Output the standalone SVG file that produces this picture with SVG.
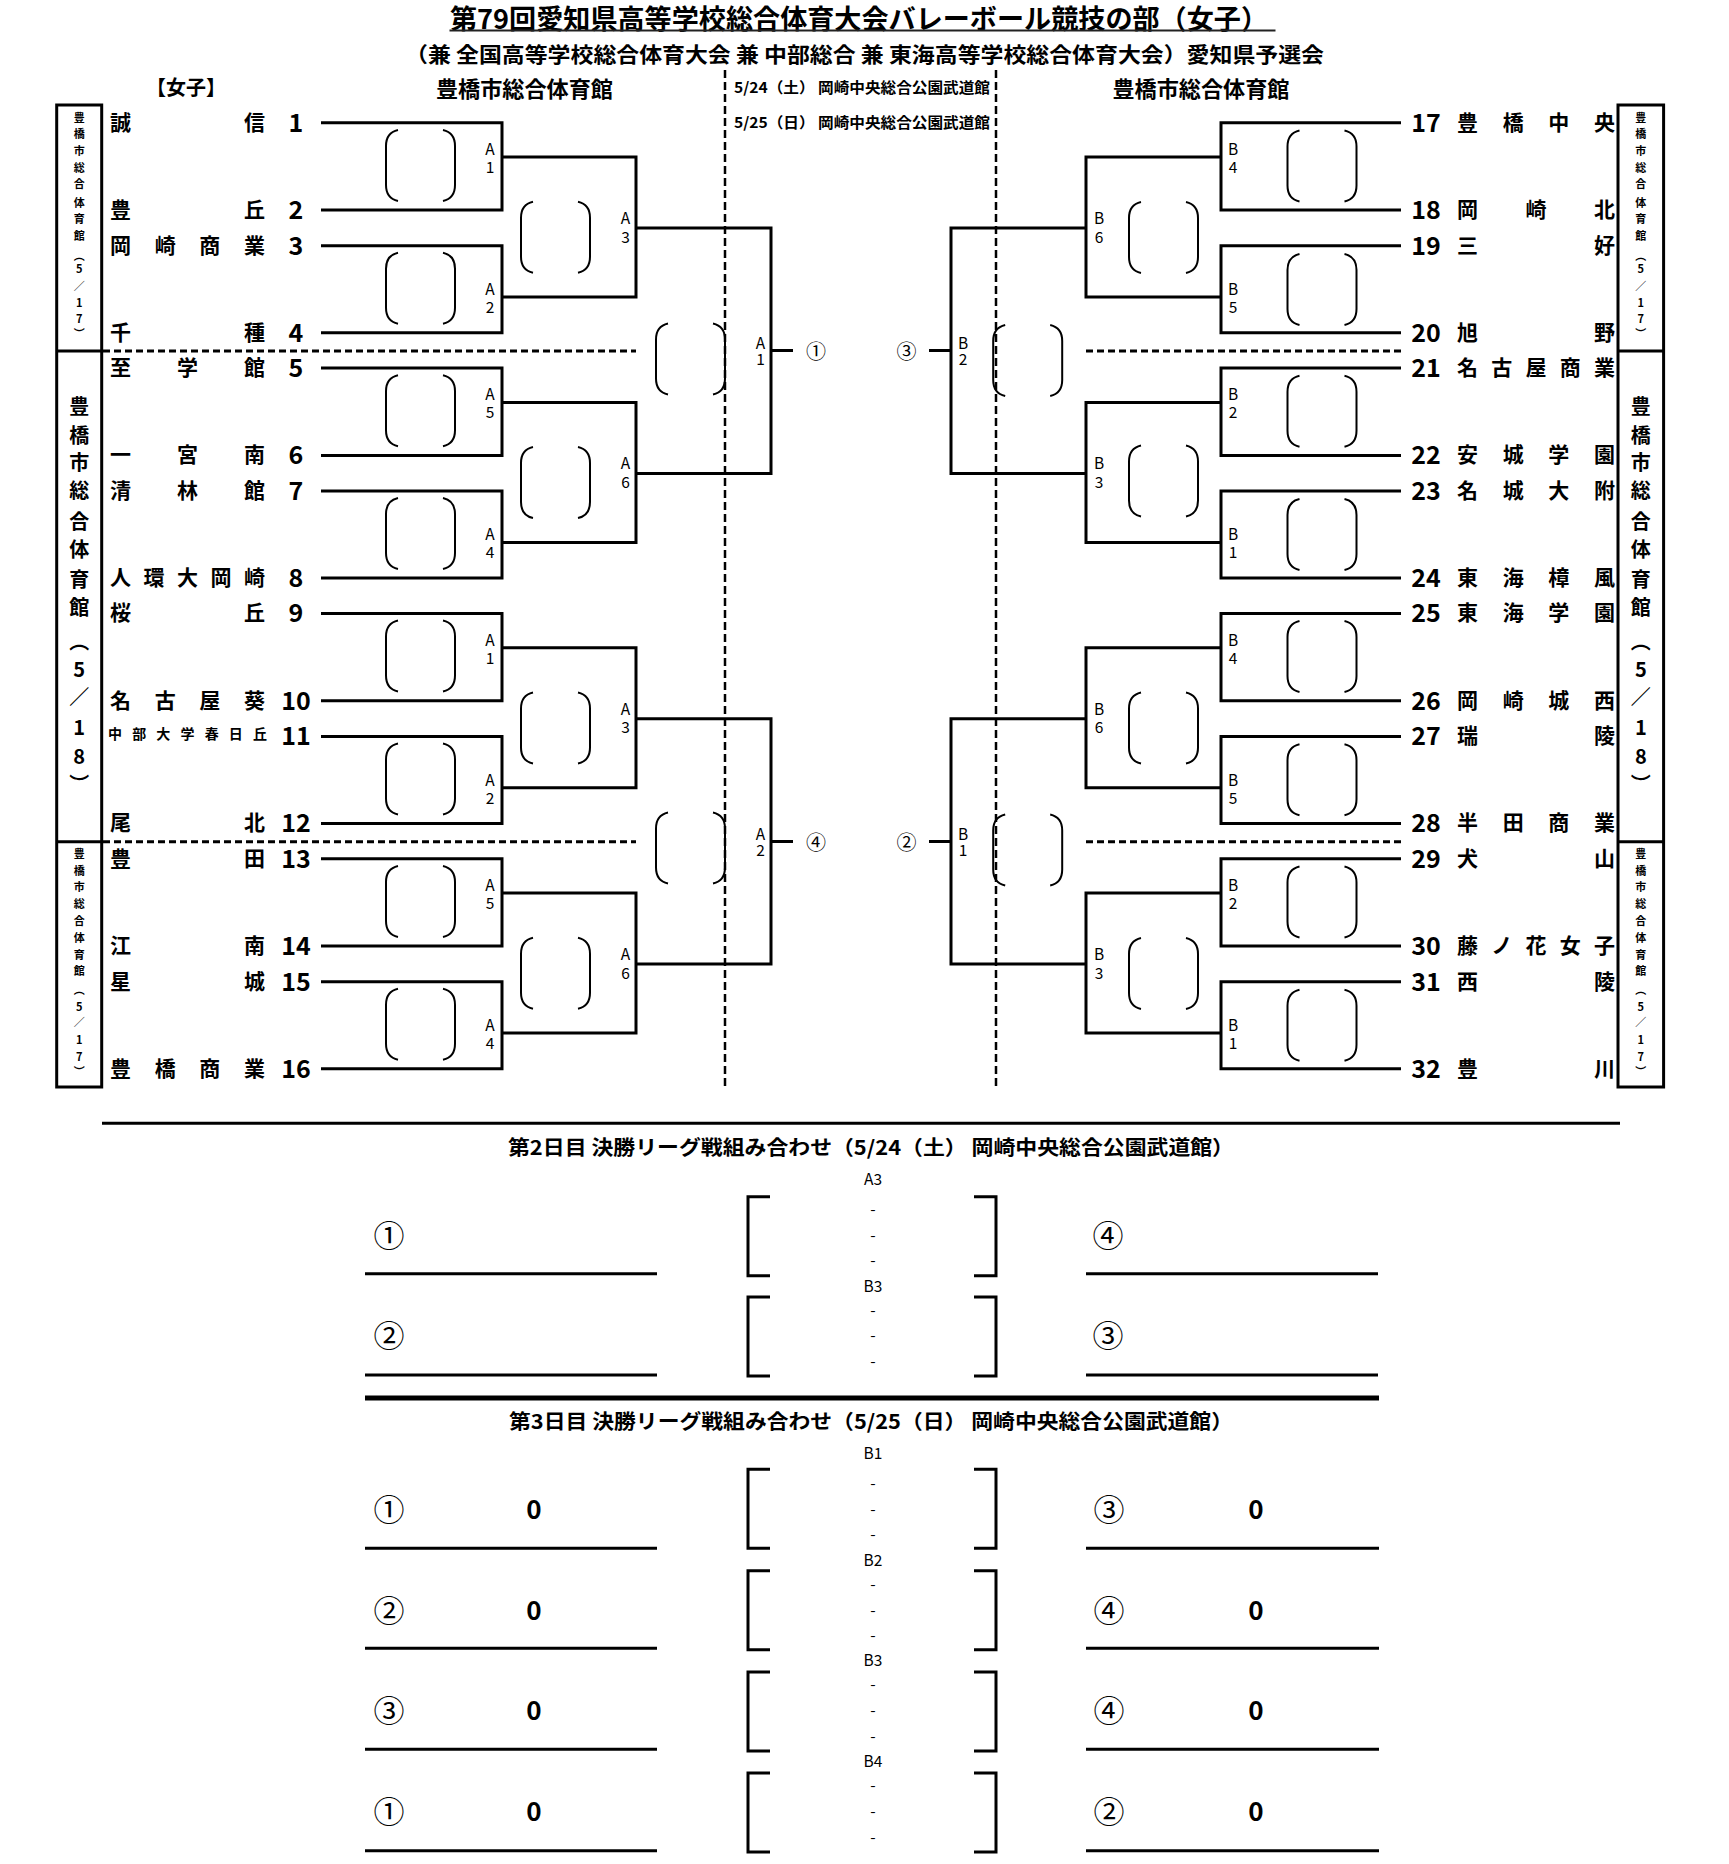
<svg xmlns="http://www.w3.org/2000/svg" xmlns:xlink="http://www.w3.org/1999/xlink" width="1729" height="1864" viewBox="0 0 1729 1864">
<style>
text{font-family:"Noto Sans CJK JP","Noto Sans",sans-serif;fill:#000}
.c{dominant-baseline:central}
.m{text-anchor:middle}
.b{font-weight:700}
.nm{font-size:21px;font-weight:700;dominant-baseline:central}
.nm2{font-size:14px;font-weight:700;dominant-baseline:central}
.no{font-size:25px;font-weight:700;text-anchor:middle;dominant-baseline:central}
.lb{font-size:15.5px;text-anchor:middle}
.vs{font-size:11px;font-weight:700;text-anchor:middle;dominant-baseline:central}
.vl{font-size:20px;font-weight:700;text-anchor:middle;dominant-baseline:central}
.ci{font-size:20px;text-anchor:middle;dominant-baseline:central}
.ci2{font-size:31px;text-anchor:middle;dominant-baseline:central}
.zero{font-size:26px;font-weight:700;text-anchor:middle;dominant-baseline:central}
.ln{fill:none;stroke:#000;stroke-width:3}
.dh{fill:none;stroke:#000;stroke-width:3;stroke-dasharray:7 4}
.dv{fill:none;stroke:#000;stroke-width:2.5;stroke-dasharray:8 4}
.pp{fill:none;stroke:#000;stroke-width:2}
</style>
<defs>
<path id="pp" class="pp" d="M-22.5,-35.5C-31.5,-33.5 -34.5,-27.5 -34.5,-19.5L-34.5,19.5C-34.5,27.5 -31.5,33.5 -22.5,35.5M22.5,-35.5C31.5,-33.5 34.5,-27.5 34.5,-19.5L34.5,19.5C34.5,27.5 31.5,33.5 22.5,35.5"/>
<path id="sq" class="ln" d="M770,0H748V79H770M974,0H996V79H974"/>
</defs>
<rect width="1729" height="1864" fill="#fff"/>

<g id="header">
<text class="b c m" x="859" y="17" font-size="27" textLength="818" lengthAdjust="spacingAndGlyphs">第79回愛知県高等学校総合体育大会バレーボール競技の部（女子）</text>
<line x1="449.5" y1="30.5" x2="1275.5" y2="30.5" stroke="#222" stroke-width="2"/>
<text class="b c m" x="864.5" y="53.3" font-size="21" textLength="919" lengthAdjust="spacingAndGlyphs">（兼 全国高等学校総合体育大会 兼 中部総合 兼 東海高等学校総合体育大会）愛知県予選会</text>
<text class="b c m" x="186" y="86.7" font-size="20">【女子】</text>
<text class="b c m" x="524.5" y="86.7" font-size="22" textLength="177" lengthAdjust="spacingAndGlyphs">豊橋市総合体育館</text>
<text class="b c m" x="1201" y="86.7" font-size="22" textLength="177" lengthAdjust="spacingAndGlyphs">豊橋市総合体育館</text>
<text class="b c" x="734" y="86.7" font-size="15" textLength="256" lengthAdjust="spacingAndGlyphs">5/24（土） 岡崎中央総合公園武道館</text>
<text class="b c" x="734" y="121.7" font-size="15" textLength="256" lengthAdjust="spacingAndGlyphs">5/25（日） 岡崎中央総合公園武道館</text>
</g>

<g id="venue-boxes">
<rect class="ln" x="56.7" y="105" width="45" height="982"/>
<line class="ln" x1="56.7" y1="351" x2="101.7" y2="351"/>
<line class="ln" x1="56.7" y1="841.7" x2="101.7" y2="841.7"/>
<rect class="ln" x="1618" y="105" width="45.6" height="982"/>
<line class="ln" x1="1618" y1="351" x2="1663.6" y2="351"/>
<line class="ln" x1="1618" y1="841.7" x2="1663.6" y2="841.7"/>
<text class="vs" x="79.2 79.2 79.2 79.2 79.2 79.2 79.2 79.2 79.2 79.2 79.2 79.2 79.2 79.2" y="116.7 133.3 150 166.7 183.3 201.7 218.3 235 255 268.3 285 301.7 318.3 333.3">豊橋市総合体育館︵5／17︶</text>
<text class="vl" x="79.2 79.2 79.2 79.2 79.2 79.2 79.2 79.2 79.2 79.2 79.2 79.2 79.2 79.2" y="405 434 461.7 489 520 548 578 606.7 640 668 695 726.7 755 783">豊橋市総合体育館︵5／18︶</text>
<text class="vs" x="79.2 79.2 79.2 79.2 79.2 79.2 79.2 79.2 79.2 79.2 79.2 79.2 79.2 79.2" y="852.7 870 886.4 902.6 919.8 937 954.3 969.8 988.7 1006 1021.4 1038.6 1055.9 1071.4">豊橋市総合体育館︵5／17︶</text>
<text class="vs" x="1640.8 1640.8 1640.8 1640.8 1640.8 1640.8 1640.8 1640.8 1640.8 1640.8 1640.8 1640.8 1640.8 1640.8" y="116.7 133.3 150 166.7 183.3 201.7 218.3 235 255 268.3 285 301.7 318.3 333.3">豊橋市総合体育館︵5／17︶</text>
<text class="vl" x="1640.8 1640.8 1640.8 1640.8 1640.8 1640.8 1640.8 1640.8 1640.8 1640.8 1640.8 1640.8 1640.8 1640.8" y="405 434 461.7 489 520 548 578 606.7 640 668 695 726.7 755 783">豊橋市総合体育館︵5／18︶</text>
<text class="vs" x="1640.8 1640.8 1640.8 1640.8 1640.8 1640.8 1640.8 1640.8 1640.8 1640.8 1640.8 1640.8 1640.8 1640.8" y="852.7 870 886.4 902.6 919.8 937 954.3 969.8 988.7 1006 1021.4 1038.6 1055.9 1071.4">豊橋市総合体育館︵5／17︶</text>
</g>

<g id="teams-left">
<g id="team-1"><text class="nm" x="110 244" y="120.7">誠信</text><text class="no" x="296" y="120.7">1</text></g>
<g id="team-2"><text class="nm" x="110 244" y="208">豊丘</text><text class="no" x="296" y="208">2</text></g>
<g id="team-3"><text class="nm" x="110 154.7 199.3 244" y="243.7">岡崎商業</text><text class="no" x="296" y="243.7">3</text></g>
<g id="team-4"><text class="nm" x="110 244" y="330.7">千種</text><text class="no" x="296" y="330.7">4</text></g>
<g id="team-5"><text class="nm" x="110 177 244" y="366.1">至学館</text><text class="no" x="296" y="366.1">5</text></g>
<g id="team-6"><text class="nm" x="110 177 244" y="453.4">一宮南</text><text class="no" x="296" y="453.4">6</text></g>
<g id="team-7"><text class="nm" x="110 177 244" y="489.1">清林館</text><text class="no" x="296" y="489.1">7</text></g>
<g id="team-8"><text class="nm" x="110 143.5 177 210.5 244" y="576.1">人環大岡崎</text><text class="no" x="296" y="576.1">8</text></g>
<g id="team-9"><text class="nm" x="110 244" y="611.4">桜丘</text><text class="no" x="296" y="611.4">9</text></g>
<g id="team-10"><text class="nm" x="110 154.7 199.3 244" y="698.7">名古屋葵</text><text class="no" x="296" y="698.7">10</text></g>
<g id="team-11"><text class="nm2" x="108 132.2 156.3 180.5 204.7 228.8 253" y="733.4">中部大学春日丘</text><text class="no" x="296" y="734.4">11</text></g>
<g id="team-12"><text class="nm" x="110 244" y="821.4">尾北</text><text class="no" x="296" y="821.4">12</text></g>
<g id="team-13"><text class="nm" x="110 244" y="856.8">豊田</text><text class="no" x="296" y="856.8">13</text></g>
<g id="team-14"><text class="nm" x="110 244" y="944.1">江南</text><text class="no" x="296" y="944.1">14</text></g>
<g id="team-15"><text class="nm" x="110 244" y="979.8">星城</text><text class="no" x="296" y="979.8">15</text></g>
<g id="team-16"><text class="nm" x="110 154.7 199.3 244" y="1066.8">豊橋商業</text><text class="no" x="296" y="1066.8">16</text></g>
</g>

<g id="teams-right">
<g id="team-17"><text class="no" x="1426" y="120.7">17</text><text class="nm" x="1457 1502.7 1548.3 1594" y="120.7">豊橋中央</text></g>
<g id="team-18"><text class="no" x="1426" y="208">18</text><text class="nm" x="1457 1525.5 1594" y="208">岡崎北</text></g>
<g id="team-19"><text class="no" x="1426" y="243.7">19</text><text class="nm" x="1457 1594" y="243.7">三好</text></g>
<g id="team-20"><text class="no" x="1426" y="330.7">20</text><text class="nm" x="1457 1594" y="330.7">旭野</text></g>
<g id="team-21"><text class="no" x="1426" y="366.1">21</text><text class="nm" x="1457 1491.3 1525.5 1559.8 1594" y="366.1">名古屋商業</text></g>
<g id="team-22"><text class="no" x="1426" y="453.4">22</text><text class="nm" x="1457 1502.7 1548.3 1594" y="453.4">安城学園</text></g>
<g id="team-23"><text class="no" x="1426" y="489.1">23</text><text class="nm" x="1457 1502.7 1548.3 1594" y="489.1">名城大附</text></g>
<g id="team-24"><text class="no" x="1426" y="576.1">24</text><text class="nm" x="1457 1502.7 1548.3 1594" y="576.1">東海樟風</text></g>
<g id="team-25"><text class="no" x="1426" y="611.4">25</text><text class="nm" x="1457 1502.7 1548.3 1594" y="611.4">東海学園</text></g>
<g id="team-26"><text class="no" x="1426" y="698.7">26</text><text class="nm" x="1457 1502.7 1548.3 1594" y="698.7">岡崎城西</text></g>
<g id="team-27"><text class="no" x="1426" y="734.4">27</text><text class="nm" x="1457 1594" y="734.4">瑞陵</text></g>
<g id="team-28"><text class="no" x="1426" y="821.4">28</text><text class="nm" x="1457 1502.7 1548.3 1594" y="821.4">半田商業</text></g>
<g id="team-29"><text class="no" x="1426" y="856.8">29</text><text class="nm" x="1457 1594" y="856.8">犬山</text></g>
<g id="team-30"><text class="no" x="1426" y="944.1">30</text><text class="nm" x="1457 1491.3 1525.5 1559.8 1594" y="944.1">藤ノ花女子</text></g>
<g id="team-31"><text class="no" x="1426" y="979.8">31</text><text class="nm" x="1457 1594" y="979.8">西陵</text></g>
<g id="team-32"><text class="no" x="1426" y="1066.8">32</text><text class="nm" x="1457 1594" y="1066.8">豊川</text></g>
</g>

<g id="connectors">
<path class="ln" d="M321,122.7H502V210H321M321,245.7H502V332.7H321M502,157H636V297H502
M321,368.1H502V455.4H321M321,491.1H502V578.1H321M502,402.4H636V542.4H502
M321,613.4H502V700.7H321M321,736.4H502V823.4H321M502,647.7H636V787.7H502
M321,858.8H502V946.1H321M321,981.8H502V1068.8H321M502,893.1H636V1033.1H502
M636,228H771V473.4H636M771,350.5H793M636,718.7H771V964.1H636M771,841.5H793"/>
<path class="ln" d="M1401,122.7H1221V210H1401M1401,245.7H1221V332.7H1401M1221,157H1086V297H1221
M1401,368.1H1221V455.4H1401M1401,491.1H1221V578.1H1401M1221,402.4H1086V542.4H1221
M1401,613.4H1221V700.7H1401M1401,736.4H1221V823.4H1401M1221,647.7H1086V787.7H1221
M1401,858.8H1221V946.1H1401M1401,981.8H1221V1068.8H1401M1221,893.1H1086V1033.1H1221
M1086,228H951V473.4H1086M951,350.5H929M1086,718.7H951V964.1H1086M951,841.5H929"/>
<path class="dh" d="M103,351H636M103,841.7H636M1086,351H1401M1086,841.7H1401"/>
<path class="dv" d="M725,70V1087M996,70V1087"/>
</g>

<g id="matches-left">
<g id="m-A1a"><use href="#pp" x="420.5" y="165.4"/><text class="lb" x="490 490" y="155 173">A1</text></g>
<g id="m-A2a"><use href="#pp" x="420.5" y="288.2"/><text class="lb" x="490 490" y="295 313">A2</text></g>
<g id="m-A5a"><use href="#pp" x="420.5" y="410.8"/><text class="lb" x="490 490" y="400.4 418.4">A5</text></g>
<g id="m-A4a"><use href="#pp" x="420.5" y="533.6"/><text class="lb" x="490 490" y="540.4 558.4">A4</text></g>
<g id="m-A1b"><use href="#pp" x="420.5" y="656.1"/><text class="lb" x="490 490" y="645.7 663.7">A1</text></g>
<g id="m-A2b"><use href="#pp" x="420.5" y="778.9"/><text class="lb" x="490 490" y="785.7 803.7">A2</text></g>
<g id="m-A5b"><use href="#pp" x="420.5" y="901.5"/><text class="lb" x="490 490" y="891.1 909.1">A5</text></g>
<g id="m-A4b"><use href="#pp" x="420.5" y="1024.3"/><text class="lb" x="490 490" y="1031.1 1049.1">A4</text></g>
<g id="m-A3a"><use href="#pp" x="555.5" y="237.2"/><text class="lb" x="625.5 625.5" y="224 242.5">A3</text></g>
<g id="m-A6a"><use href="#pp" x="555.5" y="482.6"/><text class="lb" x="625.5 625.5" y="469.4 487.9">A6</text></g>
<g id="m-A3b"><use href="#pp" x="555.5" y="727.9"/><text class="lb" x="625.5 625.5" y="714.7 733.2">A3</text></g>
<g id="m-A6b"><use href="#pp" x="555.5" y="973.3"/><text class="lb" x="625.5 625.5" y="960.1 978.6">A6</text></g>
<g id="m-A1f"><use href="#pp" x="690.5" y="359"/><text class="lb" x="760.5 760.5" y="349 365">A1</text><text class="ci" x="816" y="350.5">①</text></g>
<g id="m-A2f"><use href="#pp" x="690.5" y="848"/><text class="lb" x="760.5 760.5" y="840 856">A2</text><text class="ci" x="816" y="841.5">④</text></g>
</g>

<g id="matches-right">
<g id="m-B4a"><use href="#pp" x="1322" y="165.9"/><text class="lb" x="1233 1233" y="155 173">B4</text></g>
<g id="m-B5a"><use href="#pp" x="1322" y="289.5"/><text class="lb" x="1233 1233" y="295 313">B5</text></g>
<g id="m-B2a"><use href="#pp" x="1322" y="411.3"/><text class="lb" x="1233 1233" y="400.4 418.4">B2</text></g>
<g id="m-B1a"><use href="#pp" x="1322" y="534.5"/><text class="lb" x="1233 1233" y="540.4 558.4">B1</text></g>
<g id="m-B4b"><use href="#pp" x="1322" y="656.6"/><text class="lb" x="1233 1233" y="645.7 663.7">B4</text></g>
<g id="m-B5b"><use href="#pp" x="1322" y="779.8"/><text class="lb" x="1233 1233" y="785.7 803.7">B5</text></g>
<g id="m-B2b"><use href="#pp" x="1322" y="902"/><text class="lb" x="1233 1233" y="891.1 909.1">B2</text></g>
<g id="m-B1b"><use href="#pp" x="1322" y="1025.2"/><text class="lb" x="1233 1233" y="1031.1 1049.1">B1</text></g>
<g id="m-B6a"><use href="#pp" x="1163.5" y="237.4"/><text class="lb" x="1099 1099" y="224 242.5">B6</text></g>
<g id="m-B3a"><use href="#pp" x="1163.5" y="481"/><text class="lb" x="1099 1099" y="469.4 487.9">B3</text></g>
<g id="m-B6b"><use href="#pp" x="1163.5" y="728"/><text class="lb" x="1099 1099" y="714.7 733.2">B6</text></g>
<g id="m-B3b"><use href="#pp" x="1163.5" y="973.5"/><text class="lb" x="1099 1099" y="960.1 978.6">B3</text></g>
<g id="m-B2f"><use href="#pp" x="1027.7" y="360.5"/><text class="lb" x="963 963" y="349 365">B2</text><text class="ci" x="906.4" y="350.5">③</text></g>
<g id="m-B1f"><use href="#pp" x="1027.7" y="850"/><text class="lb" x="963 963" y="840 856">B1</text><text class="ci" x="906.4" y="841.5">②</text></g>
</g>

<g id="day2">
<line class="ln" x1="102" y1="1123.3" x2="1620" y2="1123.3" stroke-width="3.5"/>
<text class="b c m" x="871" y="1146" font-size="20" textLength="726" lengthAdjust="spacingAndGlyphs">第2日目 決勝リーグ戦組み合わせ（5/24（土） 岡崎中央総合公園武道館）</text>
<g id="d2-r1">
<text class="lb c" x="873" y="1178">A3</text>
<use href="#sq" y="1196.7"/>
<text class="lb c" x="873 873 873" y="1208 1234 1259">---</text>
<line class="ln" x1="365" y1="1273.7" x2="657" y2="1273.7"/>
<line class="ln" x1="1086" y1="1273.7" x2="1378" y2="1273.7"/>
<text class="ci2" x="389" y="1233">①</text>
<text class="ci2" x="1108" y="1233">④</text>
</g>
<g id="d2-r2">
<text class="lb c" x="873" y="1285">B3</text>
<use href="#sq" y="1297"/>
<text class="lb c" x="873 873 873" y="1309 1334 1360">---</text>
<line class="ln" x1="365" y1="1375" x2="657" y2="1375"/>
<line class="ln" x1="1086" y1="1375" x2="1378" y2="1375"/>
<text class="ci2" x="389" y="1333">②</text>
<text class="ci2" x="1108" y="1333">③</text>
</g>
<line x1="365" y1="1398" x2="1379" y2="1398" stroke="#000" stroke-width="5"/>
</g>

<g id="day3">
<text class="b c m" x="871" y="1420" font-size="20" textLength="724" lengthAdjust="spacingAndGlyphs">第3日目 決勝リーグ戦組み合わせ（5/25（日） 岡崎中央総合公園武道館）</text>
<g id="d3-r1">
<text class="lb c" x="873" y="1452">B1</text>
<use href="#sq" y="1469.3"/>
<text class="lb c" x="873 873 873" y="1481.7 1507.7 1532.7">---</text>
<line class="ln" x1="365" y1="1548.3" x2="657" y2="1548.3"/>
<line class="ln" x1="1086" y1="1548.3" x2="1379" y2="1548.3"/>
<text class="ci2" x="389" y="1507.7">①</text><text class="zero" x="534" y="1507.7">0</text>
<text class="ci2" x="1109" y="1507.7">③</text><text class="zero" x="1256" y="1507.7">0</text>
</g>
<g id="d3-r2">
<text class="lb c" x="873" y="1558.7">B2</text>
<use href="#sq" y="1570.7"/>
<text class="lb c" x="873 873 873" y="1582.7 1608.7 1634">---</text>
<line class="ln" x1="365" y1="1648.3" x2="657" y2="1648.3"/>
<line class="ln" x1="1086" y1="1648.3" x2="1379" y2="1648.3"/>
<text class="ci2" x="389" y="1608.7">②</text><text class="zero" x="534" y="1608.7">0</text>
<text class="ci2" x="1109" y="1608.7">④</text><text class="zero" x="1256" y="1608.7">0</text>
</g>
<g id="d3-r3">
<text class="lb c" x="873" y="1659.3">B3</text>
<use href="#sq" y="1672"/>
<text class="lb c" x="873 873 873" y="1683 1709 1734.7">---</text>
<line class="ln" x1="365" y1="1749.3" x2="657" y2="1749.3"/>
<line class="ln" x1="1086" y1="1749.3" x2="1379" y2="1749.3"/>
<text class="ci2" x="389" y="1708.3">③</text><text class="zero" x="534" y="1708.3">0</text>
<text class="ci2" x="1109" y="1708.3">④</text><text class="zero" x="1256" y="1708.3">0</text>
</g>
<g id="d3-r4">
<text class="lb c" x="873" y="1760">B4</text>
<use href="#sq" y="1773"/>
<text class="lb c" x="873 873 873" y="1784 1810 1835.7">---</text>
<line class="ln" x1="365" y1="1850.7" x2="657" y2="1850.7"/>
<line class="ln" x1="1086" y1="1850.7" x2="1379" y2="1850.7"/>
<text class="ci2" x="389" y="1809">①</text><text class="zero" x="534" y="1809">0</text>
<text class="ci2" x="1109" y="1809">②</text><text class="zero" x="1256" y="1809">0</text>
</g>
</g>
</svg>
